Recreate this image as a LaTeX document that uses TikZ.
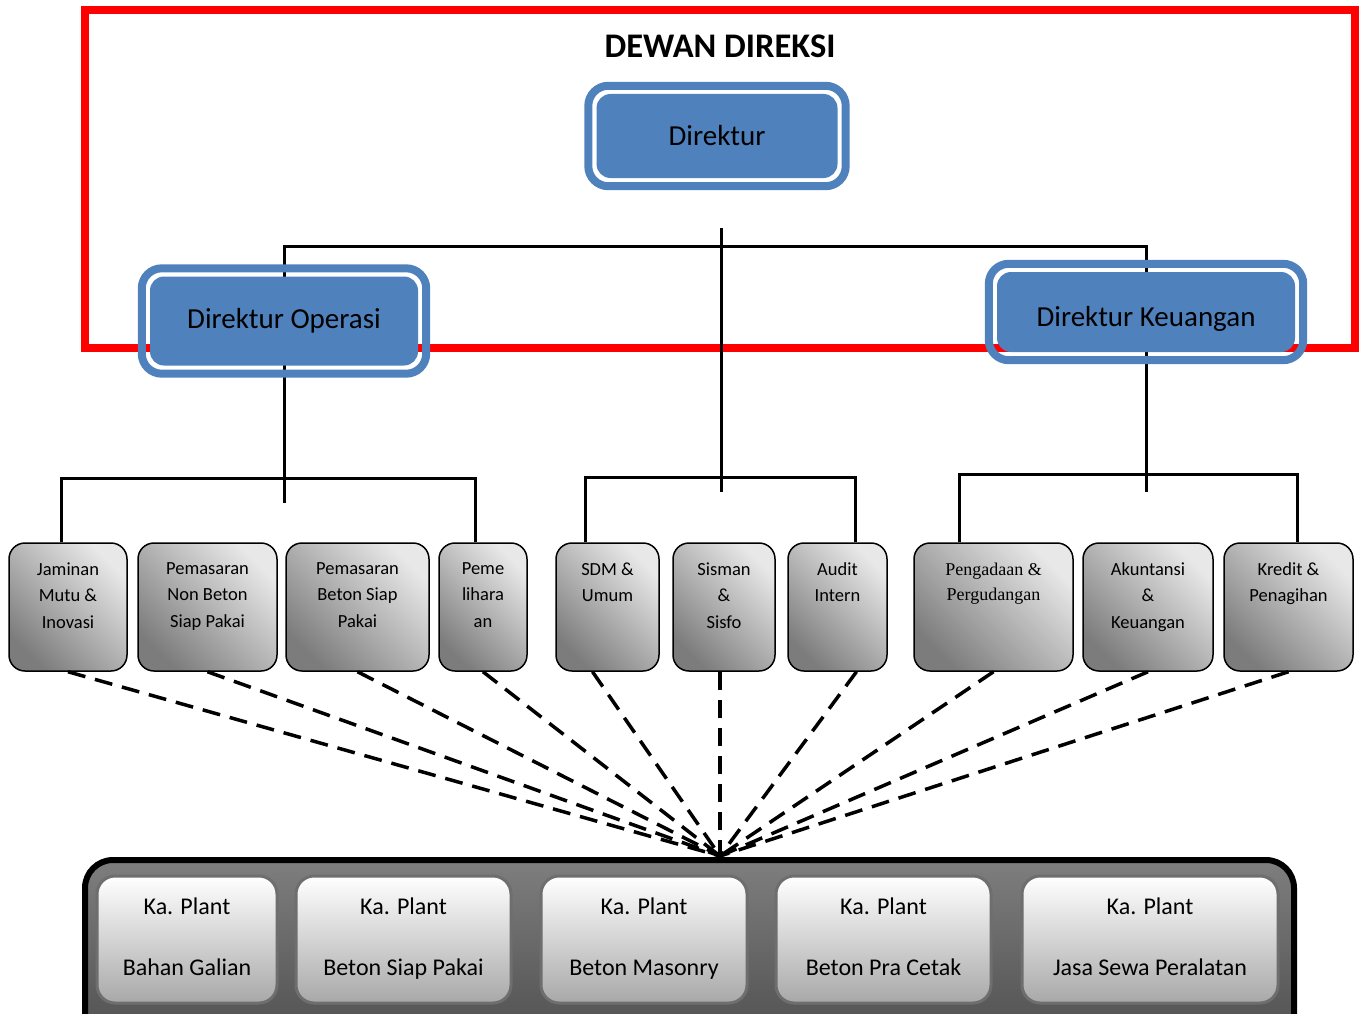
\documentclass[tikz,border=0pt]{standalone}
\usepackage{fontspec}
\setmainfont{Carlito}
\newfontfamily\serifunit{Liberation Serif}
\usetikzlibrary{positioning,fit,backgrounds}

\definecolor{dirblue}{HTML}{4F81BD}
\definecolor{unitlight}{HTML}{E8E8E8}
\definecolor{unitdark}{HTML}{7C7C7C}
\definecolor{plantlow}{HTML}{A8A8A8}
\definecolor{plantedge}{HTML}{6E6E6E}
\definecolor{framehigh}{HTML}{7E7E7E}
\definecolor{framelow}{HTML}{4E4E4E}

\newcommand\plantstrut{\rule[-10pt]{0pt}{30pt}}

\tikzset{
  dirbox/.style={fill=dirblue, rounded corners=14pt, text=black, inner sep=0pt,
    font=\fontsize{29}{34}\selectfont},
  dirring/.style={draw=dirblue, line width=8pt, rounded corners=20pt, inner sep=8pt},
  treeline/.style={line width=3pt, black},
  unitbox/.style={draw=black, line width=1.5pt, rounded corners=16pt,
    top color=unitlight, bottom color=unitdark, shading angle=-45,
    minimum height=128pt, inner sep=0pt},
  unittext/.style={anchor=north, align=center, inner sep=0pt, yshift=-20pt,
    font=\fontsize{18.5}{26.5}\selectfont},
  linkline/.style={line width=3.5pt, dash pattern=on 18pt off 10pt},
  plantbox/.style={draw=plantedge, line width=3pt, rounded corners=18pt,
    top color=white, bottom color=plantlow, minimum height=127pt,
    align=center, font=\fontsize{24}{61}\selectfont},
  plantframe/.style={draw=black, line width=6pt, rounded corners=28pt,
    top color=framehigh, bottom color=framelow},
  redframe/.style={draw=red, line width=8pt}
}

\begin{document}
\begin{tikzpicture}[x=1pt,y=-1pt]
  \useasboundingbox (0,0) rectangle (1365,1014);
  \clip (0,0) rectangle (1365,1014);

  % board of directors
  \node[font=\bfseries\fontsize{34.5}{40}\selectfont] (title) at (720,46) {DEWAN DIREKSI};
  \node[dirbox, minimum width=241pt, minimum height=84pt] (dir) at (717,136) {Direktur};
  \node[dirring, fit=(dir)] (dirring) {};
  \node[dirbox, minimum width=268pt, minimum height=89pt] (ops) at (284,321) {Direktur Operasi};
  \node[dirring, fit=(ops)] (opsring) {};
  \node[dirbox, minimum width=298pt, minimum height=80pt] (keu) at (1146,312) {\raisebox{-14pt}[0pt][0pt]{Direktur Keuangan}};
  \node[dirring, fit=(keu)] (keuring) {};

  % units
  \node[unitbox, minimum width=118pt] (jmi) at (68,607) {};
  \node[unittext] (jmitxt) at (jmi.north) {Jaminan\\Mutu \&\\Inovasi};
  \node[unitbox, minimum width=139pt] (pns) at (207.5,607) {};
  \node[unittext] (pnstxt) at (pns.north) {Pemasaran\\Non Beton\\Siap Pakai};
  \node[unitbox, minimum width=143pt] (pbs) at (357.5,607) {};
  \node[unittext] (pbstxt) at (pbs.north) {Pemasaran\\Beton Siap\\Pakai};
  \node[unitbox, minimum width=88pt] (peme) at (483,607) {};
  \node[unittext] (pemetxt) at (peme.north) {Peme\\lihara\\an};
  \node[unitbox, minimum width=103pt] (sdm) at (607.5,607) {};
  \node[unittext] (sdmtxt) at (sdm.north) {SDM \&\\Umum};
  \node[unitbox, minimum width=102pt] (sis) at (724,607) {};
  \node[unittext] (sistxt) at (sis.north) {Sisman\\\&\\Sisfo};
  \node[unitbox, minimum width=99pt] (aud) at (837.5,607) {};
  \node[unittext] (audtxt) at (aud.north) {Audit\\Intern};
  \node[unitbox, minimum width=159pt] (pgd) at (993.5,607) {};
  \node[unittext, yshift=-1pt, font=\serifunit\fontsize{18}{25}\selectfont] (pgdtxt) at (pgd.north) {Pengadaan \&\\Pergudangan};
  \node[unitbox, minimum width=130pt] (akt) at (1148,607) {};
  \node[unittext] (akttxt) at (akt.north) {Akuntansi\\\&\\Keuangan};
  \node[unitbox, minimum width=129pt] (krd) at (1288.5,607) {};
  \node[unittext] (krdtxt) at (krd.north) {Kredit \&\\Penagihan};

  % tree lines
  \begin{scope}[on background layer]
    \draw[redframe] (85,10) rectangle (1355,348);
    \coordinate (trunktop) at (721,228);
    \coordinate (trunkend) at (721,492);
    \coordinate (busleft) at (284,246);
    \coordinate (busright) at (1146,246);
    \coordinate (opsend) at (284,503);
    \coordinate (keuend) at (1146,492);
    \draw[treeline] (trunktop) -- (trunkend);
    \draw[treeline] (ops.center) -- (busleft) -- (busright) -- (keu.center);
    \draw[treeline] (ops.center) -- (opsend);
    \draw[treeline] (keu.center) -- (keuend);
    \draw[treeline] ([xshift=-7pt]jmi.north) -- ++(0,-64) -| ([xshift=-8pt]peme.north);
    \draw[treeline] ([xshift=-22pt]sdm.north) -- ++(0,-65) -| ([xshift=18pt]aud.north);
    \draw[treeline] ([xshift=-34pt]pgd.north) -- ++(0,-68) -| ([xshift=9pt]krd.north);
  \end{scope}

  % dashed links to the plants
  \coordinate (hub) at (720,856);
  \foreach \u in {jmi,pns,pbs,peme,pgd,akt,krd}
    \draw[linkline] (\u.south) -- (hub);
  \draw[linkline] ([xshift=-15pt]sdm.south) -- (hub);
  \draw[linkline] ([xshift=-4pt]sis.south) -- (hub);
  \draw[linkline] ([xshift=19pt]aud.south) -- (hub);

  % plants
  \draw[plantframe] (85,860) rectangle (1294,1050);
  \node[plantbox, minimum width=180pt] (bg) at (187,939.5) {\plantstrut Ka. Plant\\\plantstrut Bahan Galian};
  \node[plantbox, minimum width=215pt] (bsp) at (403.5,939.5) {\plantstrut Ka. Plant\\\plantstrut Beton Siap Pakai};
  \node[plantbox, minimum width=206pt] (bm) at (644,939.5) {\plantstrut Ka. Plant\\\plantstrut Beton Masonry};
  \node[plantbox, minimum width=215pt] (bpc) at (883.5,939.5) {\plantstrut Ka. Plant\\\plantstrut Beton Pra Cetak};
  \node[plantbox, minimum width=256pt] (jsp) at (1150,939.5) {\plantstrut Ka. Plant\\\plantstrut Jasa Sewa Peralatan};
\end{tikzpicture}
\end{document}
